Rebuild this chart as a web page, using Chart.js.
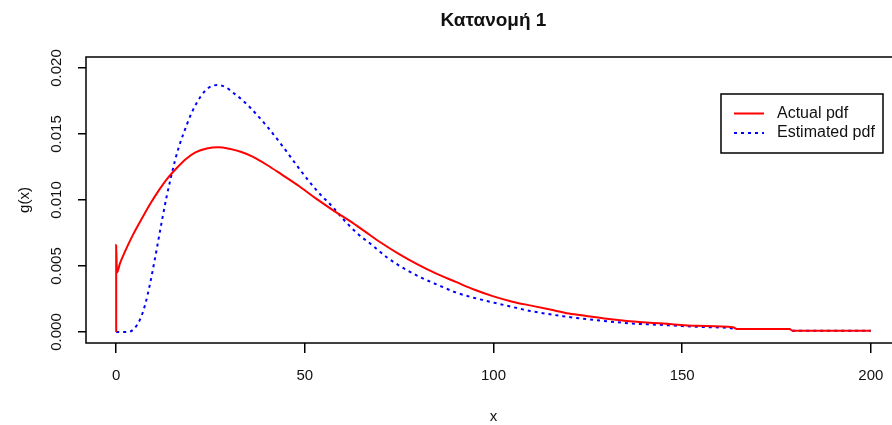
<!DOCTYPE html>
<html>
<head>
<meta charset="utf-8">
<title>Κατανομή 1</title>
<script src="https://cdn.jsdelivr.net/npm/chart.js@4.4.1/dist/chart.umd.min.js"></script>
<style>
    html, body { margin: 0; padding: 0; background: #fff; overflow: hidden; }
    #wrap { position: relative; width: 910px; height: 425px; }
</style>
</head>
<body>
<div id="wrap"><canvas id="pdfChart"></canvas></div>
<script>
// Actual pdf (red, solid)
const actualX = [0, 0, 0.2, 1, 2.5, 4.5, 7, 9, 11, 13.5, 16, 18.5, 21, 24, 27, 30, 33, 36, 40, 44, 48.7, 53, 57.6, 62, 66, 70, 75, 80, 85, 90, 95, 100, 105, 110, 115, 120, 125, 130, 136, 145, 154, 163.5, 164.5, 178.5, 179.2, 200];
const actualY = [0, 0.0066, 0.0045, 0.0052, 0.0062, 0.0074, 0.0087, 0.0097, 0.0106, 0.0116, 0.0124, 0.0131, 0.0136, 0.0139, 0.0140, 0.01388, 0.01365, 0.0133, 0.01265, 0.0119, 0.0110, 0.0101, 0.0092, 0.0084, 0.0076, 0.0068, 0.0059, 0.0051, 0.0044, 0.0038, 0.0032, 0.0027, 0.0023, 0.0020, 0.0017, 0.0014, 0.0012, 0.0010, 0.00082, 0.00064, 0.00047, 0.00036, 0.00023, 0.00023, 0.0001, 0.0001];

// Estimated pdf (blue, dotted)
const estX = [0, 2.8, 4.6, 6.4, 7.7, 9, 10.3, 11.2, 12.3, 13.4, 14.5, 15.6, 16.7, 17.8, 20, 22.3, 24.5, 26.7, 29, 31.1, 33.3, 35.5, 39.9, 44.3, 48.7, 53.2, 57.6, 60, 63.8, 68.2, 72, 77, 81, 85.8, 90, 94.7, 99, 103.5, 109.7, 118.4, 127.3, 136.2, 145, 153.8, 162.6, 164.5, 178.5, 179.2, 200];
const estY = [0, 0, 0.0002, 0.0010, 0.0021, 0.0037, 0.0056, 0.0070, 0.0087, 0.0103, 0.0117, 0.0130, 0.0141, 0.0150, 0.0166, 0.0178, 0.0185, 0.0187, 0.01855, 0.0181, 0.0176, 0.0170, 0.0156, 0.0140, 0.0123, 0.0107, 0.0094, 0.0086, 0.0075, 0.0065, 0.0056, 0.0047, 0.0041, 0.0035, 0.0030, 0.0026, 0.0023, 0.0020, 0.0016, 0.0012, 0.0009, 0.00066, 0.00053, 0.0004, 0.0003, 0.00023, 0.00023, 0.0001, 0.0001];

const xTicks = [0, 50, 100, 150, 200];
const yTicks = [0, 0.005, 0.010, 0.015, 0.020];
const yTickLabels = ['0.000', '0.005', '0.010', '0.015', '0.020'];
const seriesNames = ['Actual pdf', 'Estimated pdf'];

const FONT = '"Liberation Sans", Arial, sans-serif';

function toPoints(xs, ys) {
    return xs.map((x, i) => ({ x: x, y: ys[i] }));
}

// R-style extras: full box, rotated y tick labels, boxed legend
const rBasePlot = {
    id: 'rBasePlot',
    afterDraw(chart) {
        const ctx = chart.ctx;
        const area = chart.chartArea;
        const yScale = chart.scales.y;

        ctx.save();
        ctx.strokeStyle = '#000';
        ctx.lineWidth = 1.5;
        ctx.strokeRect(area.left, area.top, area.right - area.left, area.bottom - area.top);

        // y tick labels, rotated like R's las=0
        ctx.fillStyle = '#111';
        ctx.font = '15px ' + FONT;
        ctx.textAlign = 'center';
        ctx.textBaseline = 'middle';
        yTicks.forEach((v, i) => {
            ctx.save();
            ctx.translate(57, yScale.getPixelForValue(v));
            ctx.rotate(-Math.PI / 2);
            ctx.fillText(yTickLabels[i], 0, 0);
            ctx.restore();
        });

        // legend
        const lx = 721, ly = 94, lw = 162, lh = 59;
        ctx.fillStyle = '#fff';
        ctx.fillRect(lx, ly, lw, lh);
        ctx.lineWidth = 1.5;
        ctx.strokeStyle = '#000';
        ctx.strokeRect(lx, ly, lw, lh);
        ctx.font = '16px ' + FONT;
        chart.data.datasets.forEach((ds, i) => {
            const y = ly + 19.5 + i * 19.5;
            ctx.beginPath();
            ctx.setLineDash(ds.borderDash || []);
            ctx.strokeStyle = ds.borderColor;
            ctx.lineWidth = ds.borderWidth;
            ctx.moveTo(lx + 13, y);
            ctx.lineTo(lx + 43, y);
            ctx.stroke();
            ctx.setLineDash([]);
            ctx.fillStyle = '#111';
            ctx.textAlign = 'left';
            ctx.fillText(ds.label, lx + 56, y);
        });
        ctx.restore();
    }
};

const ctx = document.getElementById('pdfChart').getContext('2d');
new Chart(ctx, {
    type: 'line',
    data: {
        datasets: [{
            label: seriesNames[0],
            data: toPoints(actualX, actualY),
            borderColor: '#ff0000',
            borderWidth: 2,
            pointRadius: 0,
            fill: false,
            cubicInterpolationMode: 'monotone'
        }, {
            label: seriesNames[1],
            data: toPoints(estX, estY),
            borderColor: '#0000ff',
            borderWidth: 2,
            borderDash: [3, 4],
            pointRadius: 0,
            fill: false,
            cubicInterpolationMode: 'monotone'
        }]
    },
    options: {
        responsive: true,
        maintainAspectRatio: false,
        animation: false,
        layout: { padding: { left: 0, right: 9, top: 0, bottom: 0 } },
        plugins: {
            legend: { display: false },
            tooltip: { enabled: false },
            title: {
                display: true,
                fullSize: false,
                text: 'Κατανομή 1',
                color: '#111',
                font: { family: FONT, size: 19, weight: 'bold', lineHeight: 1.2 },
                padding: { top: 9, bottom: 25.2 }
            }
        },
        scales: {
            x: {
                type: 'linear',
                min: -8,
                max: 208,
                afterFit: scale => { scale.height = 82; },
                afterBuildTicks: scale => { scale.ticks = xTicks.map(v => ({ value: v })); },
                border: { display: false },
                grid: { drawOnChartArea: false, drawTicks: true, tickLength: 10, color: '#000', lineWidth: 1.5 },
                ticks: {
                    color: '#111',
                    font: { family: FONT, size: 15 },
                    padding: 14,
                    maxRotation: 0,
                    callback: v => String(v)
                },
                title: {
                    display: true,
                    text: 'x',
                    color: '#111',
                    font: { family: FONT, size: 15, lineHeight: 1 },
                    padding: { top: 0, bottom: 0.5 }
                }
            },
            y: {
                type: 'linear',
                min: -0.00083,
                max: 0.02083,
                afterFit: scale => { scale.width = 86; },
                afterBuildTicks: scale => { scale.ticks = yTicks.map(v => ({ value: v })); },
                border: { display: false },
                grid: { drawOnChartArea: false, drawTicks: true, tickLength: 8, color: '#000', lineWidth: 1.5 },
                ticks: { display: false },
                title: {
                    display: true,
                    text: 'g(x)',
                    color: '#111',
                    font: { family: FONT, size: 15, lineHeight: 1 },
                    padding: { top: 17.5, bottom: 0 }
                }
            }
        }
    },
    plugins: [rBasePlot]
});
</script>
</body>
</html>
